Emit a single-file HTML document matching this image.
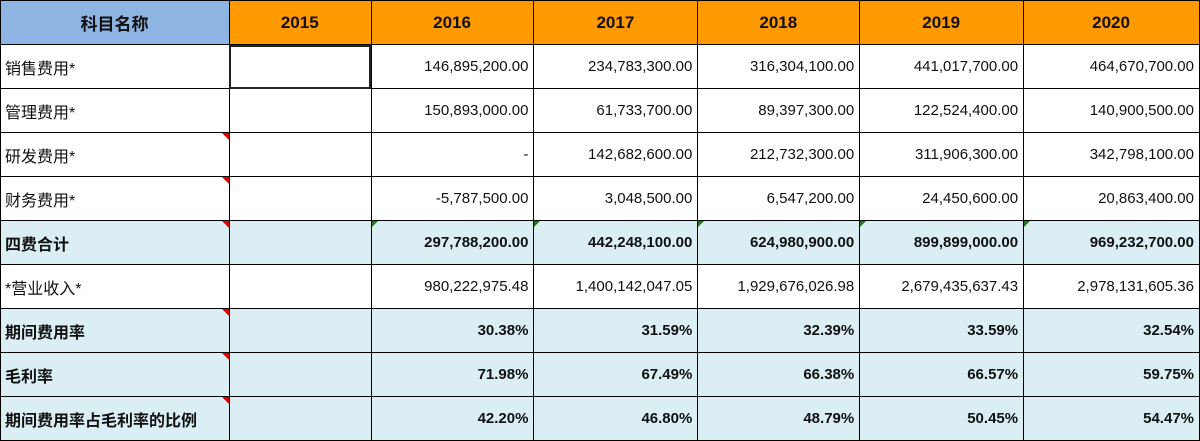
<!DOCTYPE html>
<html><head><meta charset="utf-8"><style>
body{margin:0;width:1200px;height:441px;overflow:hidden;background:#fff;font-family:"Liberation Sans","Noto Sans CJK SC",sans-serif;}
table{border-collapse:collapse;table-layout:fixed;position:absolute;left:0;top:0;}
td{border:1px solid #000;height:43px;padding:0 5px 0 4px;font-size:15px;color:#111;text-align:right;white-space:nowrap;overflow:visible;position:relative;}
td:first-child{text-align:left;padding-left:4px;font-size:16px;}
tr.h td{background:#ff9900;font-weight:bold;font-size:17px;text-align:center;height:43px;}
tr.h td:first-child{background:#8db4e2;text-align:center;}
tr.b td{background:#daeef3;font-weight:bold;}
.r:after{content:"";position:absolute;right:0;top:0;border-top:7px solid #e00000;border-left:7px solid transparent;}
.g:before{content:"";position:absolute;left:0;top:0;border-top:6px solid #1a7a1a;border-right:6px solid transparent;}
.sel{outline:2px solid #222;outline-offset:-2px;}
</style></head><body>
<table>
<colgroup><col style="width:229px"><col style="width:142px"><col style="width:163px"><col style="width:164px"><col style="width:162px"><col style="width:164px"><col style="width:176px"></colgroup>
<tr class="h"><td>科目名称</td><td>2015</td><td>2016</td><td>2017</td><td>2018</td><td>2019</td><td>2020</td></tr>
<tr><td>销售费用*</td><td class="sel"></td><td>146,895,200.00</td><td>234,783,300.00</td><td>316,304,100.00</td><td>441,017,700.00</td><td>464,670,700.00</td></tr>
<tr><td>管理费用*</td><td></td><td>150,893,000.00</td><td>61,733,700.00</td><td>89,397,300.00</td><td>122,524,400.00</td><td>140,900,500.00</td></tr>
<tr><td class="r">研发费用*</td><td></td><td>-</td><td>142,682,600.00</td><td>212,732,300.00</td><td>311,906,300.00</td><td>342,798,100.00</td></tr>
<tr><td class="r">财务费用*</td><td></td><td>-5,787,500.00</td><td>3,048,500.00</td><td>6,547,200.00</td><td>24,450,600.00</td><td>20,863,400.00</td></tr>
<tr class="b"><td class="r">四费合计</td><td></td><td class="g">297,788,200.00</td><td class="g">442,248,100.00</td><td class="g">624,980,900.00</td><td class="g">899,899,000.00</td><td class="g">969,232,700.00</td></tr>
<tr><td>*营业收入*</td><td></td><td>980,222,975.48</td><td>1,400,142,047.05</td><td>1,929,676,026.98</td><td>2,679,435,637.43</td><td>2,978,131,605.36</td></tr>
<tr class="b"><td class="r">期间费用率</td><td></td><td>30.38%</td><td>31.59%</td><td>32.39%</td><td>33.59%</td><td>32.54%</td></tr>
<tr class="b"><td class="r">毛利率</td><td></td><td>71.98%</td><td>67.49%</td><td>66.38%</td><td>66.57%</td><td>59.75%</td></tr>
<tr class="b"><td class="r">期间费用率占毛利率的比例</td><td></td><td>42.20%</td><td>46.80%</td><td>48.79%</td><td>50.45%</td><td>54.47%</td></tr>
</table>
</body></html>
